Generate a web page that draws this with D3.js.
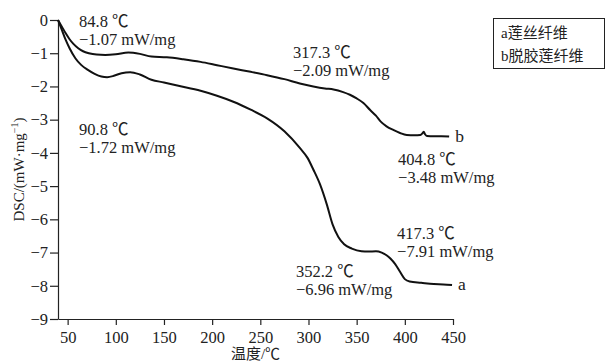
<!DOCTYPE html>
<html>
<head>
<meta charset="utf-8">
<script src="https://cdn.jsdelivr.net/npm/d3@7"></script>
<style>
  body { margin: 0; background: #fff; }
  svg { display: block; }
  text { font-family: "Liberation Serif", "Times New Roman", "Noto Sans CJK SC", serif; fill: #222; }
  .cjk { font-family: "Liberation Serif", "Noto Sans CJK SC", serif; }
</style>
</head>
<body>
<svg id="chart" width="606" height="363"></svg>
<script>
// ---- data ----
const xTicks = [50, 100, 150, 200, 250, 300, 350, 400, 450];
const yTicks = [0, -1, -2, -3, -4, -5, -6, -7, -8, -9];

// curve a: 莲丝纤维
const aTemp = [40, 44, 48, 52, 58, 64, 71, 78, 85, 91, 98, 106, 115, 125, 137, 150, 165, 188, 205, 222, 240, 257, 275, 291, 299, 305, 312, 319, 325, 331, 337, 345, 355, 362, 370, 376, 381, 385, 390, 395, 400, 405, 417, 430, 440, 449];
const aDSC  = [0, -0.3, -0.6, -0.85, -1.15, -1.35, -1.5, -1.62, -1.7, -1.72, -1.68, -1.6, -1.57, -1.64, -1.8, -1.88, -1.98, -2.13, -2.28, -2.46, -2.7, -2.96, -3.35, -3.85, -4.15, -4.5, -4.95, -5.55, -6.15, -6.53, -6.75, -6.88, -6.96, -6.97, -6.96, -7.0, -7.08, -7.18, -7.35, -7.58, -7.8, -7.87, -7.91, -7.95, -7.96, -7.98];

// curve b: 脱胶莲纤维
const bTemp = [40, 44, 48, 52, 56, 61, 66, 72, 80, 89, 100, 113, 125, 137, 153, 170, 188, 205, 222, 240, 257, 275, 291, 305, 317, 326, 336, 343, 350, 357, 364, 370, 375, 381, 388, 395, 402, 410, 416, 418, 419.6, 421, 423, 430, 438, 446];
const bDSC  = [0, -0.2, -0.4, -0.58, -0.72, -0.85, -0.94, -1.0, -1.04, -1.05, -1.03, -0.98, -1.02, -1.1, -1.12, -1.18, -1.26, -1.36, -1.46, -1.56, -1.66, -1.78, -1.91, -2.0, -2.06, -2.09, -2.17, -2.25, -2.36, -2.5, -2.71, -2.88, -3.06, -3.2, -3.31, -3.4, -3.46, -3.47, -3.46, -3.42, -3.36, -3.44, -3.49, -3.5, -3.5, -3.51];

const annotations = [
  { lines: ["84.8 ℃", "−1.07 mW/mg"], t: 61.8, v: -0.22 },
  { lines: ["90.8 ℃", "−1.72 mW/mg"], t: 61.8, v: -3.46 },
  { lines: ["317.3 ℃", "−2.09 mW/mg"], t: 284, v: -1.15 },
  { lines: ["404.8 ℃", "−3.48 mW/mg"], t: 393, v: -4.37 },
  { lines: ["417.3 ℃", "−7.91 mW/mg"], t: 392, v: -6.6 },
  { lines: ["352.2 ℃", "−6.96 mW/mg"], t: 287, v: -7.74 }
];
const legendItems = ["a莲丝纤维", "b脱胶莲纤维"];
const curveLabels = [{ name: "a", t: 449, v: -7.98 }, { name: "b", t: 446, v: -3.51 }];

// ---- chart ----
const svg = d3.select("#chart");
const L = 58, R = 453, T = 20, B = 319;
const x = d3.scaleLinear().domain([40, 450]).range([L, R]);
const y = d3.scaleLinear().domain([0, -9]).range([T, B]);
const fs = 16.5;

// minor ticks
const xMinor = d3.range(75, 450, 50);
const yMinor = d3.range(-0.5, -9, -1);

const gx = svg.append("g").attr("transform", `translate(0,${B})`);
gx.call(d3.axisBottom(x).tickValues(xMinor).tickSize(4).tickFormat("").tickSizeOuter(0));
gx.call(d3.axisBottom(x).tickValues(xTicks).tickSize(6).tickPadding(6).tickSizeOuter(0));

const gy = svg.append("g").attr("transform", `translate(${L},0)`);
gy.call(d3.axisLeft(y).tickValues(yMinor).tickSize(5).tickFormat("").tickSizeOuter(0));
gy.call(d3.axisLeft(y).tickValues(yTicks).tickSize(8).tickPadding(2).tickSizeOuter(0));

svg.selectAll(".tick text").attr("font-size", fs).attr("font-family", "Liberation Serif, Times New Roman, serif").attr("fill", "#222");
svg.selectAll(".domain, .tick line").attr("stroke", "#222").attr("stroke-width", 1.2);

// curves
const line = d3.line().x(d => x(d[0])).y(d => y(d[1])).curve(d3.curveMonotoneX);
const aData = aTemp.map((t, i) => [t, aDSC[i]]);
const bData = bTemp.map((t, i) => [t, bDSC[i]]);
[aData, bData].forEach(data => {
  svg.append("path").datum(data).attr("d", line)
    .attr("fill", "none").attr("stroke", "#111").attr("stroke-width", 2)
    .attr("stroke-linejoin", "round");
});

// curve labels
curveLabels.forEach(c => {
  svg.append("text").attr("x", x(c.t) + 6).attr("y", y(c.v) + 5)
    .attr("font-size", fs + 1).text(c.name);
});

// annotations
annotations.forEach(a => {
  a.lines.forEach((s, i) => {
    svg.append("text").attr("x", x(a.t)).attr("y", y(a.v) + i * 18)
      .attr("font-size", fs).text(s);
  });
});

// axis titles
svg.append("text").attr("class", "cjk").attr("x", (L + R) / 2).attr("y", 359)
  .attr("text-anchor", "middle").attr("font-size", 15).text("温度/℃");

const yt = svg.append("text").attr("class", "cjk")
  .attr("transform", `translate(24,${(T + B) / 2}) rotate(-90)`)
  .attr("text-anchor", "middle").attr("font-size", 15);
yt.append("tspan").text("DSC/(mW·mg");
yt.append("tspan").attr("dy", -6).attr("font-size", 10).text("−1");
yt.append("tspan").attr("dy", 6).text(")");

// legend
const lg = svg.append("g");
lg.append("rect").attr("x", 493.5).attr("y", 18.5).attr("width", 111).attr("height", 50)
  .attr("fill", "none").attr("stroke", "#222").attr("stroke-width", 1);
legendItems.forEach((s, i) => {
  lg.append("text").attr("class", "cjk").attr("x", 501).attr("y", 38 + i * 23)
    .attr("font-size", 15).text(s);
});
</script>
</body>
</html>
